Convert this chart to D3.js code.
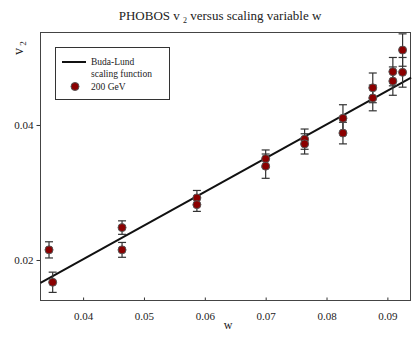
<!DOCTYPE html>
<html>
<head>
<meta charset="utf-8">
<script src="https://cdn.jsdelivr.net/npm/d3@7"></script>
<style>
  body { margin: 0; background: #fff; }
  text { font-family: "Liberation Serif", "Times New Roman", serif; fill: #222; }
  .axis path { display: none; }
  .axis line { stroke: #333; }
</style>
</head>
<body>
<div id="chart"></div>
<script>
// PHOBOS 200 GeV v2 points (two per w value)
var wValues = [0.0344, 0.0350, 0.0464, 0.0464, 0.0587, 0.0587, 0.0700, 0.0700, 0.0764,
               0.0764, 0.0827, 0.0827, 0.0876, 0.0876, 0.0909, 0.0909, 0.0925, 0.0925];
var v2Values = [0.0215, 0.0167, 0.0248, 0.0215, 0.0292, 0.0282, 0.0350, 0.0339, 0.0379,
                0.0372, 0.0410, 0.0388, 0.0455, 0.0440, 0.0479, 0.0465, 0.0511, 0.0478];
var v2Errors = [0.0012, 0.0015, 0.0010, 0.0011, 0.0011, 0.0010, 0.0013, 0.0018, 0.0015,
                0.0015, 0.0020, 0.0016, 0.0022, 0.0019, 0.0021, 0.0021, 0.0024, 0.0022];

// Buda-Lund scaling function
var lineW = [0.0330, 0.0939];
var lineV = [0.0166, 0.0470];

var xTicks = [0.04, 0.05, 0.06, 0.07, 0.08, 0.09];
var yTicks = [0.02, 0.04];

var width = 415, height = 341;
var margin = {top: 32.5, right: 4.5, bottom: 40.5, left: 40.5};

var svg = d3.select("#chart").append("svg")
    .attr("width", width)
    .attr("height", height);

var x = d3.scaleLinear().domain([0.0330, 0.0938]).range([margin.left, width - margin.right]);
var y = d3.scaleLinear().domain([0.0140, 0.0537]).range([height - margin.bottom, margin.top]);

// title
var title = svg.append("text")
    .attr("x", 220)
    .attr("y", 20)
    .attr("text-anchor", "middle")
    .style("font-size", "13px");
title.append("tspan").text("PHOBOS v ");
title.append("tspan").attr("dy", 3).style("font-size", "8px").text("2");
title.append("tspan").attr("dy", -3).text(" versus scaling variable w");

// axes
svg.append("g")
    .attr("class", "x axis")
    .attr("transform", "translate(0," + (height - margin.bottom) + ")")
    .call(d3.axisBottom(x).tickValues(xTicks).tickSize(-3).tickPadding(12).tickFormat(d3.format(".2f")))
    .selectAll("text").style("font-size", "11px").style("font-family", "Liberation Serif");

svg.append("g")
    .attr("class", "y axis")
    .attr("transform", "translate(" + margin.left + ",0)")
    .call(d3.axisLeft(y).tickValues(yTicks).tickSize(4).tickPadding(3).tickFormat(d3.format(".2f")))
    .selectAll("text").style("font-size", "11px").style("font-family", "Liberation Serif");

// frame
svg.append("rect")
    .attr("x", margin.left)
    .attr("y", margin.top)
    .attr("width", width - margin.left - margin.right)
    .attr("height", height - margin.top - margin.bottom)
    .attr("fill", "none")
    .attr("stroke", "#444");

// axis labels
svg.append("text")
    .attr("x", 228)
    .attr("y", 329)
    .attr("text-anchor", "middle")
    .style("font-size", "12px")
    .text("w");

var ylab = svg.append("text")
    .attr("transform", "translate(23,55) rotate(-90)")
    .style("font-size", "14px");
ylab.append("tspan").text("v");
ylab.append("tspan").attr("dy", 3).style("font-size", "9px").text(" 2");

// fit line
var line = d3.line()
    .x(function(d, i) { return x(lineW[i]); })
    .y(function(d) { return y(d); });

svg.append("path")
    .datum(lineV)
    .attr("d", line)
    .attr("fill", "none")
    .attr("stroke", "#111")
    .attr("stroke-width", 2);

// data points
var points = wValues.map(function(w, i) {
    return {w: w, v: v2Values[i], e: v2Errors[i]};
});

var err = svg.append("g").selectAll("g")
    .data(points)
    .enter().append("g")
    .attr("stroke", "#333")
    .attr("stroke-width", 1.2);

err.append("line")
    .attr("x1", function(d) { return x(d.w); })
    .attr("x2", function(d) { return x(d.w); })
    .attr("y1", function(d) { return y(d.v - d.e); })
    .attr("y2", function(d) { return y(d.v + d.e); });
err.append("line")
    .attr("x1", function(d) { return x(d.w) - 4; })
    .attr("x2", function(d) { return x(d.w) + 4; })
    .attr("y1", function(d) { return y(d.v + d.e); })
    .attr("y2", function(d) { return y(d.v + d.e); });
err.append("line")
    .attr("x1", function(d) { return x(d.w) - 4; })
    .attr("x2", function(d) { return x(d.w) + 4; })
    .attr("y1", function(d) { return y(d.v - d.e); })
    .attr("y2", function(d) { return y(d.v - d.e); });

svg.append("g").selectAll("circle")
    .data(points)
    .enter().append("circle")
    .attr("cx", function(d) { return x(d.w); })
    .attr("cy", function(d) { return y(d.v); })
    .attr("r", 4)
    .attr("fill", "#8b0000")
    .attr("stroke", "#555")
    .attr("stroke-width", 1);

// legend
var legend = svg.append("g");
legend.append("rect")
    .attr("x", 55.5).attr("y", 47.5)
    .attr("width", 114).attr("height", 52)
    .attr("fill", "#fff").attr("stroke", "#333");
legend.append("line")
    .attr("x1", 62).attr("x2", 86).attr("y1", 62).attr("y2", 62)
    .attr("stroke", "#111").attr("stroke-width", 2);
legend.append("text").attr("x", 91).attr("y", 65).style("font-size", "9.5px").text("Buda-Lund");
legend.append("text").attr("x", 91).attr("y", 77).style("font-size", "9.5px").text("scaling function");
legend.append("circle")
    .attr("cx", 75).attr("cy", 86.5).attr("r", 4)
    .attr("fill", "#8b0000").attr("stroke", "#555");
legend.append("text").attr("x", 91).attr("y", 90).style("font-size", "9.5px").text("200 GeV");
</script>
</body>
</html>
